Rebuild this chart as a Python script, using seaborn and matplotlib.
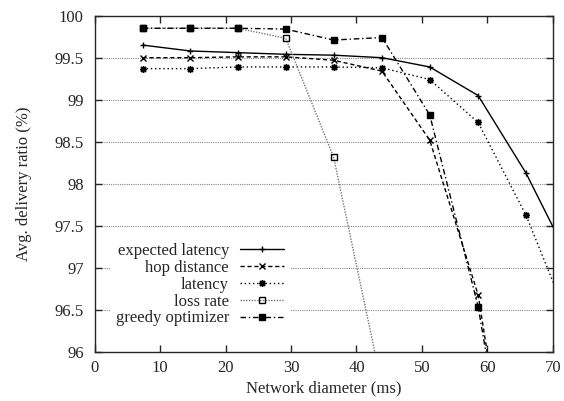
import numpy as np
import pandas as pd
import seaborn as sns
import matplotlib
matplotlib.use("Agg")
import matplotlib.pyplot as plt

# values
diameter = [7.3, 14.6, 21.9, 29.2, 36.5, 43.9, 51.2, 58.6, 65.9, 73.2]
expected_latency = [99.65, 99.58, 99.56, 99.54, 99.53, 99.50, 99.39, 99.05, 98.13, 97.00]
hop_distance = [99.50, 99.50, 99.51, 99.51, 99.47, 99.34, 98.52, 96.68, 93.1, 90.0]
latency = [99.37, 99.37, 99.39, 99.39, 99.39, 99.38, 99.24, 98.73, 97.63, 96.23]
loss_rate = [99.85, 99.85, 99.85, 99.73, 98.32, 95.6, 93.0, 90.0, 87.0, 84.0]
greedy_optimizer = [99.85, 99.85, 99.85, 99.84, 99.71, 99.74, 98.82, 96.54, 93.2, 90.0]

# name, values, linestyle, marker, line colour, marker size, marker face
series = [
    ("expected latency", expected_latency, "-", "+", "black", 5, "black"),
    ("hop distance", hop_distance, (0, (3, 2)), "x", "black", 4, "black"),
    ("latency", latency, (0, (1, 2)), (8, 2, 0), "black", 5, "black"),
    ("loss rate", loss_rate, (0, (1, 1)), "s", "#777777", 4.5, "none"),
    ("greedy optimizer", greedy_optimizer, (0, (4, 2, 1, 2)), "s", "black", 4.5, "black"),
]

sns.set_style("ticks")
plt.rcParams["font.family"] = ["Liberation Serif", "DejaVu Serif"]
plt.rcParams["font.size"] = 12

fig = plt.figure(figsize=(5.64, 4.01), dpi=100)
ax = fig.add_axes([0.168, 0.122, 0.812, 0.839])

for name, vals, ls, mk, col, ms, face in series:
    df = pd.DataFrame({"x": diameter, "y": vals})
    sns.lineplot(data=df, x="x", y="y", ax=ax, label=name, color=col,
                 linestyle=ls, linewidth=1.0, marker=mk, markersize=ms,
                 markerfacecolor=face, markeredgecolor="black",
                 markeredgewidth=1.0, sort=False)

ax.set_xlim(0, 70)
ax.set_ylim(96, 100)
ax.set_xticks(np.arange(0, 71, 10))
ax.set_yticks(np.arange(96, 100.01, 0.5))
ax.set_yticklabels(["96", "96.5", "97", "97.5", "98", "98.5", "99", "99.5", "100"])
ax.tick_params(direction="in", top=True, right=True, length=5, width=1, labelsize=12)
ax.tick_params(axis="y", pad=8)
ax.tick_params(axis="x", pad=6)
for s in ax.spines.values():
    s.set_linewidth(1.0)
for yv in np.arange(96.5, 100, 0.5):
    ax.axhline(yv, color="#888888", linestyle=(0, (1, 1)), linewidth=0.8, zorder=0)

ax.set_xlabel("Network diameter (ms)", fontsize=12, labelpad=3)
ax.set_ylabel("Avg. delivery ratio (%)", fontsize=12, labelpad=16)

leg = ax.legend(loc="upper right", bbox_to_anchor=(0.424, 0.339), borderaxespad=0,
                markerfirst=False, frameon=True, framealpha=1, edgecolor="white",
                fancybox=False, handlelength=2.64, handletextpad=0.66,
                labelspacing=0.05, borderpad=0.3, fontsize=12)
leg._legend_box.align = "right"
leg.set_zorder(5)

fig.savefig("out.png", dpi=100)
